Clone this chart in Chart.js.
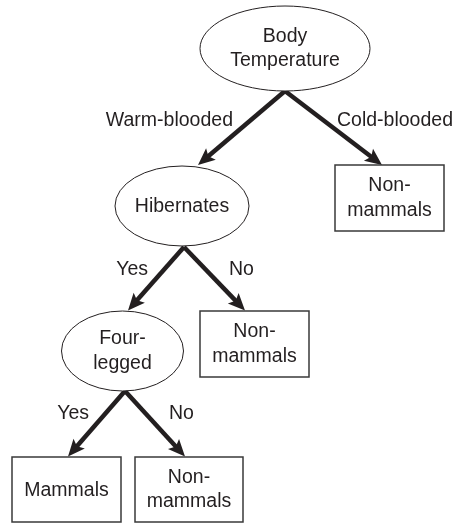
<!DOCTYPE html>
<html>
<head>
<meta charset="utf-8">
<script src="https://cdn.jsdelivr.net/npm/chart.js"></script>
<style>
  body { margin: 0; background: #fff; }
  #tree { display: block; }
</style>
</head>
<body>
<canvas id="tree" width="454" height="523"></canvas>
<script>
// tree nodes
var nodeText = [["Body", "Temperature"], ["Hibernates"], ["Non-", "mammals"], ["Four-", "legged"], ["Non-", "mammals"], ["Mammals"], ["Non-", "mammals"]];
var nodeKind = ["ellipse", "ellipse", "box", "ellipse", "box", "box", "box"];
var nodeX = [285, 182, 389.5, 122.5, 254.5, 66.5, 189];
var nodeY = [48.5, 206, 198, 351, 344, 489.5, 489.5];
var nodeRx = [85, 67, 54.5, 61, 54.5, 54.5, 54];
var nodeRy = [42.5, 40, 33, 40, 33, 32.5, 32.5];

// branches
var edgeText = ["Warm-blooded", "Cold-blooded", "Yes", "No", "Yes", "No"];
var edgeFromX = [285, 285, 184, 184, 125, 125];
var edgeFromY = [91, 91, 247, 247, 391, 391];
var edgeToX = [198, 382, 128, 245, 68, 185];
var edgeToY = [165, 165, 310.5, 310.5, 456.5, 456.5];
var edgeLabelX = [233, 337, 148, 229, 89, 169];
var edgeLabelY = [126, 126, 275, 275, 419, 419];
var edgeSide = ["right", "left", "right", "left", "right", "left"];

var ink = "#231f20";
var font = "19.5px 'Liberation Sans', Arial, sans-serif";
var headLen = 17, headHalf = 7.5;

var edgeSets = edgeText.map(function(t, i) {
  var dx = edgeToX[i] - edgeFromX[i], dy = edgeToY[i] - edgeFromY[i];
  var len = Math.sqrt(dx * dx + dy * dy);
  var cut = (headLen * 0.7) / len;
  return {
    label: t,
    data: [{x: edgeFromX[i], y: edgeFromY[i]}, {x: edgeToX[i] - dx * cut, y: edgeToY[i] - dy * cut}],
    showLine: true,
    borderColor: ink,
    borderWidth: 4.5,
    borderCapStyle: "butt",
    pointRadius: 0,
    clip: false
  };
});

var treePlugin = {
  id: "tree",
  afterDatasetsDraw: function(chart) {
    var ctx = chart.ctx, sx = chart.scales.x, sy = chart.scales.y;
    ctx.save();
    // arrow heads
    ctx.fillStyle = ink;
    edgeText.forEach(function(t, i) {
      var tx = sx.getPixelForValue(edgeToX[i]), ty = sy.getPixelForValue(edgeToY[i]);
      var fx = sx.getPixelForValue(edgeFromX[i]), fy = sy.getPixelForValue(edgeFromY[i]);
      var a = Math.atan2(ty - fy, tx - fx);
      var c = Math.cos(a), s = Math.sin(a);
      ctx.beginPath();
      ctx.moveTo(tx, ty);
      ctx.lineTo(tx - headLen * c + headHalf * s, ty - headLen * s - headHalf * c);
      ctx.lineTo(tx - headLen * 0.8 * c, ty - headLen * 0.8 * s);
      ctx.lineTo(tx - headLen * c - headHalf * s, ty - headLen * s + headHalf * c);
      ctx.closePath();
      ctx.fill();
    });
    // nodes
    ctx.font = font;
    ctx.textAlign = "center";
    ctx.textBaseline = "alphabetic";
    nodeText.forEach(function(lines, i) {
      var cx = sx.getPixelForValue(nodeX[i]), cy = sy.getPixelForValue(nodeY[i]);
      var rx = Math.abs(sx.getPixelForValue(nodeX[i] + nodeRx[i]) - cx);
      var ry = Math.abs(sy.getPixelForValue(nodeY[i] + nodeRy[i]) - cy);
      ctx.beginPath();
      if (nodeKind[i] == "ellipse") {
        ctx.ellipse(cx, cy, rx, ry, 0, 0, Math.PI * 2);
        ctx.fillStyle = "#fff";
        ctx.fill();
        ctx.lineWidth = 1;
        ctx.strokeStyle = ink;
      } else {
        ctx.rect(cx - rx, cy - ry, rx * 2, ry * 2);
        ctx.fillStyle = "#fff";
        ctx.fill();
        ctx.lineWidth = 1.5;
        ctx.strokeStyle = "#3a3a3a";
      }
      ctx.stroke();
      ctx.fillStyle = ink;
      if (lines.length == 1) {
        ctx.fillText(lines[0], cx, cy + 6);
      } else {
        ctx.fillText(lines[0], cx, cy - 7);
        ctx.fillText(lines[1], cx, cy + 17.5);
      }
    });
    // branch labels
    edgeText.forEach(function(t, i) {
      ctx.textAlign = edgeSide[i];
      ctx.fillText(t, sx.getPixelForValue(edgeLabelX[i]), sy.getPixelForValue(edgeLabelY[i]));
    });
    ctx.restore();
  }
};

new Chart("tree", {
  type: "scatter",
  data: { datasets: edgeSets },
  options: {
    responsive: false,
    animation: false,
    layout: { padding: 0 },
    scales: {
      x: { type: "linear", min: 0, max: 454, display: false },
      y: { type: "linear", min: 0, max: 523, reverse: true, display: false }
    },
    plugins: {
      legend: { display: false },
      tooltip: { enabled: false }
    }
  },
  plugins: [treePlugin]
});
</script>
</body>
</html>
